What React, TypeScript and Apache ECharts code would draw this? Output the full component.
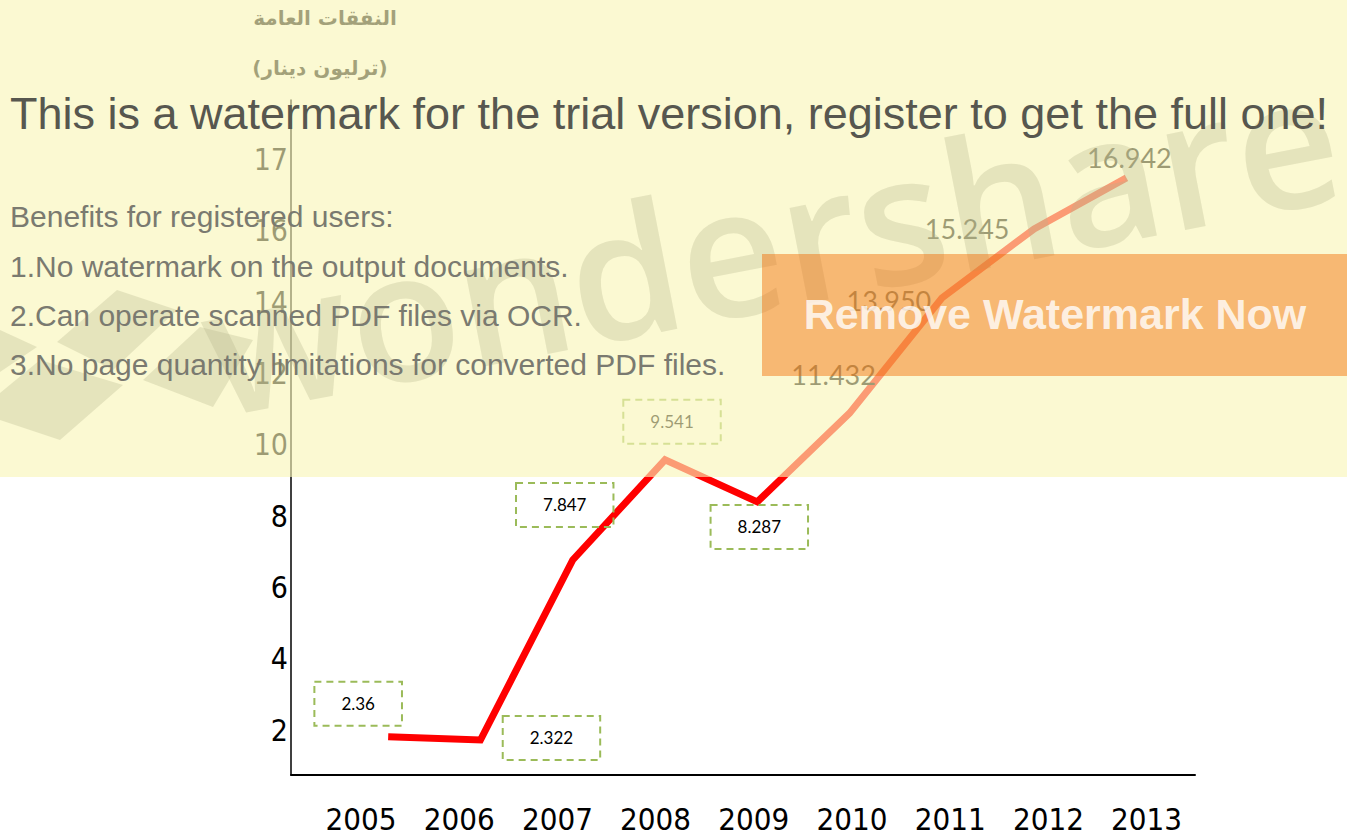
import React, { useEffect, useRef } from "react";
import * as echarts from "echarts";

const years = [2005, 2006, 2007, 2008, 2009, 2010, 2011, 2012, 2013];
// positions of the drawn line, read against the y axis
const plottedValues = [1.81, 1.72, 6.77, 9.58, 8.4, 10.89, 14.12, 16.06, 17.49];
// values printed next to the line
const labelTexts = ["2.36", "2.322", "7.847", "9.541", "8.287", "11.432", "13.950", "15.245", "16.942"];
const yTickValues = [2, 4, 6, 8, 10, 12, 14, 16, 18];
const yTickLabels = ["2", "4", "6", "8", "10", "12", "14", "16", "17"];

const titleLine1 = "النفقات العامة";
const titleLine2 = "(ترليون دينار)";
const wmHeadline = "This is a watermark for the trial version, register to get the full one!";
const wmLines = [
  "Benefits for registered users:",
  "1.No watermark on the output documents.",
  "2.Can operate scanned PDF files via OCR.",
  "3.No page quantity limitations for converted PDF files.",
];
const wmButton = "Remove Watermark Now";
const wmBrand = "wondershare";

const labelOffsets: [number, number][] = [
  [-30, -33], [71, -2], [-8, -55], [7, -38], [2, 25],
  [-16, -39], [-53, 2], [-67, 0], [3, -20],
];

export default function App() {
  const ref = useRef<HTMLDivElement>(null);
  useEffect(() => {
    if (!ref.current) return;
    const chart = echarts.init(ref.current, undefined, { renderer: "svg" });
    const narrow = '"Liberation Sans Narrow", "DejaVu Sans Condensed", "Liberation Sans", sans-serif';

    const data = years.map((yr, i) => {
      const boxed = i < 5;
      return {
        value: [yr, plottedValues[i]],
        label: boxed
          ? {
              show: true,
              position: "inside",
              offset: labelOffsets[i],
              formatter: () => labelTexts[i],
              color: "#000",
              fontFamily: "Lato, sans-serif",
              fontSize: 17,
              lineHeight: 20,
              padding: [12, 27],
              borderColor: "#9BBB59",
              borderWidth: 2,
              borderType: [7, 5],
            }
          : {
              show: true,
              position: "inside",
              offset: labelOffsets[i],
              formatter: () => labelTexts[i],
              color: "#000",
              fontFamily: "Lato, sans-serif",
              fontSize: 27,
            },
      };
    });

    const wmFill = "rgba(180,180,140,0.30)";
    const option: any = {
      animation: false,
      backgroundColor: "#ffffff",
      grid: { left: 291, right: 152, top: 100, bottom: 61, containLabel: false },
      xAxis: [
        {
          type: "value",
          min: 2004.287,
          max: 2013.493,
          axisLine: { show: true, onZero: false, lineStyle: { color: "#000", width: 2 } },
          axisTick: { show: false },
          splitLine: { show: false },
          axisLabel: {
            customValues: years,
            formatter: (v: number) => String(v),
            color: "#000",
            fontFamily: narrow,
            fontSize: 31,
            margin: 28,
          },
        },
        {
          type: "value",
          min: 2003.947,
          max: 2013.743,
          show: false,
        },
      ],
      yAxis: {
        type: "value",
        min: 0.7375,
        max: 19.675,
        axisLine: { show: true, onZero: false, lineStyle: { color: "#000", width: 1.5 } },
        axisTick: { show: false },
        splitLine: { show: false },
        axisLabel: {
          customValues: yTickValues,
          formatter: (v: number) => {
            const k = yTickValues.indexOf(v);
            return k >= 0 ? yTickLabels[k] : "";
          },
          color: "#000",
          fontFamily: narrow,
          fontSize: 30,
          margin: 3,
        },
      },
      series: [
        {
          type: "line",
          xAxisIndex: 1,
          data,
          symbol: "circle",
          symbolSize: 1,
          itemStyle: { color: "rgba(0,0,0,0)" },
          lineStyle: { color: "#FF0000", width: 7, join: "miter" },
          z: 2,
        },
      ],
      graphic: {
        elements: [
          {
            type: "text", x: 325, y: 18, z: 1,
            style: { text: titleLine1, fill: "#111", font: 'bold 20px "DejaVu Sans"', align: "center", verticalAlign: "middle" },
          },
          {
            type: "text", x: 320, y: 68, z: 1,
            style: { text: titleLine2, fill: "#111", font: 'bold 20px "DejaVu Sans"', align: "center", verticalAlign: "middle" },
          },
          {
            type: "rect", z: 100, silent: true,
            shape: { x: 0, y: 0, width: 1347, height: 477 },
            style: { fill: "rgba(249,246,183,0.63)" },
          },
          { type: "polygon", z: 101, shape: { points: [[57, 342], [117, 290], [177, 310], [113, 370]] }, style: { fill: wmFill } },
          { type: "polygon", z: 101, shape: { points: [[0, 393], [40, 360], [123, 385], [60, 440], [0, 420]] }, style: { fill: wmFill } },
          { type: "polygon", z: 101, shape: { points: [[143, 380], [200, 327], [253, 340], [213, 407]] }, style: { fill: wmFill } },
          { type: "polygon", z: 101, shape: { points: [[0, 330], [37, 347], [0, 372]] }, style: { fill: wmFill } },
          {
            type: "text", x: 770, y: 240, z: 101, rotation: (11 * Math.PI) / 180,
            style: { text: wmBrand, fill: wmFill, font: '600 180px "Open Sans"', align: "center", verticalAlign: "middle" },
          },
          {
            type: "text", x: 10, y: 113, z: 102,
            style: { text: wmHeadline, fill: "#57574F", font: '45px "Liberation Sans"', align: "left", verticalAlign: "middle" },
          },
          ...wmLines.map((t, i) => ({
            type: "text", x: 10, y: [216, 266, 315, 364][i], z: 102,
            style: { text: t, fill: "#7A7A70", font: '30px "Liberation Sans"', align: "left", verticalAlign: "middle" },
          })),
          {
            type: "rect", z: 103, silent: true,
            shape: { x: 762, y: 254, width: 585, height: 122 },
            style: { fill: "rgba(241,104,0,0.45)" },
          },
          {
            type: "text", x: 1055, y: 314, z: 104,
            style: { text: wmButton, fill: "rgba(255,255,255,0.8)", font: 'bold 43px "Liberation Sans"', align: "center", verticalAlign: "middle" },
          },
        ],
      },
    };
    chart.setOption(option);
    return () => chart.dispose();
  }, []);
  return (
    <div
      ref={ref}
      style={{ position: "absolute", left: 0, top: 0, width: 1347, height: 836 }}
    />
  );
}
